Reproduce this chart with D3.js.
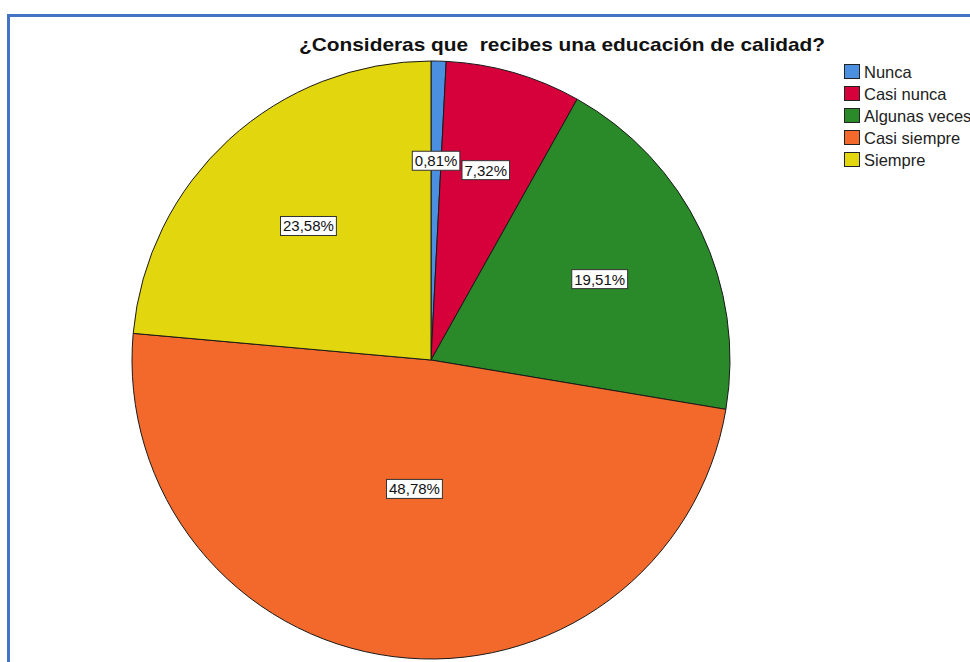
<!DOCTYPE html>
<html>
<head>
<meta charset="utf-8">
<script src="https://cdn.jsdelivr.net/npm/d3@7"></script>
<style>
  html, body { margin: 0; padding: 0; background: #fff; overflow: hidden; }
  svg { display: block; font-family: "Liberation Sans", Arial, sans-serif; }
</style>
</head>
<body>
<svg id="chart" width="970" height="662"></svg>
<script>
const title = "¿Consideras que  recibes una educación de calidad?";
const categories = ["Nunca", "Casi nunca", "Algunas veces", "Casi siempre", "Siempre"];
const percents = [0.81, 7.32, 19.51, 48.78, 23.58];
const colors = ["#4a8fe0", "#d6003a", "#2a8a2a", "#f2692b", "#e2d60e"];

const svg = d3.select("#chart");

// frame
svg.append("rect")
  .attr("x", 8.5).attr("y", 15.5)
  .attr("width", 1000).attr("height", 1000)
  .attr("fill", "none").attr("stroke", "#4472c4").attr("stroke-width", 3);

// title
svg.append("text")
  .attr("x", 562).attr("y", 51)
  .attr("text-anchor", "middle")
  .attr("font-size", 19).attr("font-weight", "bold")
  .attr("fill", "#111")
  .attr("textLength", 526).attr("lengthAdjust", "spacingAndGlyphs")
  .style("white-space", "pre")
  .attr("xml:space", "preserve")
  .text(title);

const cx = 431, cy = 360, R = 299;
const data = categories.map((c, i) => ({ cat: c, value: percents[i], color: colors[i] }));
const pie = d3.pie().value(d => d.value).sort(null);
const arcs = pie(data);
const arc = d3.arc().innerRadius(0).outerRadius(R);

// label at the area centroid of each sector
function labelPos(d) {
  const a = (d.endAngle - d.startAngle) / 2;
  const r = a < 1e-6 ? 2 * R / 3 : (2 * R * Math.sin(a)) / (3 * a);
  const m = (d.startAngle + d.endAngle) / 2;
  return [r * Math.sin(m), -r * Math.cos(m)];
}

const g = svg.append("g").attr("transform", `translate(${cx},${cy})`);
g.selectAll("path.slice").data(arcs).enter().append("path")
  .attr("class", "slice")
  .attr("d", arc)
  .attr("fill", d => d.data.color)
  .attr("stroke", "#1a1a1a").attr("stroke-width", 1);

const fmt = v => v.toFixed(2).replace(".", ",") + "%";
const lg = g.selectAll("g.lbl").data(arcs).enter().append("g")
  .attr("class", "lbl")
  .attr("transform", d => { const c = labelPos(d); return `translate(${c[0]},${c[1]})`; });
lg.append("text")
  .attr("text-anchor", "middle").attr("dy", "0.36em")
  .attr("font-size", 15).attr("fill", "#111")
  .text(d => fmt(d.data.value))
  .each(function() {
    const bb = this.getBBox();
    d3.select(this.parentNode).insert("rect", "text")
      .attr("x", bb.x - 2.5).attr("y", -9.5)
      .attr("width", bb.width + 5).attr("height", 19)
      .attr("fill", "#fff").attr("stroke", "#333").attr("stroke-width", 1);
  });

// legend
const legend = svg.append("g").attr("transform", "translate(844,64)");
const rows = legend.selectAll("g").data(data).enter().append("g")
  .attr("transform", (d, i) => `translate(0,${i * 22})`);
rows.append("rect")
  .attr("x", 0.5).attr("y", 0.5).attr("width", 15).attr("height", 14)
  .attr("fill", d => d.color).attr("stroke", "#222").attr("stroke-width", 1);
rows.append("text")
  .attr("x", 20).attr("y", 13.5)
  .attr("font-size", 16.5).attr("fill", "#222")
  .text(d => d.cat);
</script>
</body>
</html>
